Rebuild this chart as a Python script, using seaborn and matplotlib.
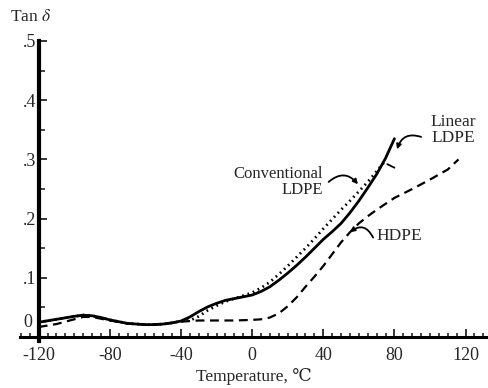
import numpy as np
import pandas as pd
import seaborn as sns
import matplotlib.pyplot as plt
from matplotlib.ticker import MultipleLocator, FixedLocator

# Linear LDPE (solid)
temp_linear = [-120, -110, -100, -95, -90, -85, -80, -75, -70, -65, -60, -55, -50, -45, -40, -35, -30, -25, -20, -15, -10, -5, 0, 5, 10, 15, 20, 25, 30, 35, 40, 45, 50, 55, 60, 65, 70, 75, 80]
tan_linear = [0.025, 0.030, 0.035, 0.037, 0.036, 0.033, 0.029, 0.026, 0.023, 0.022, 0.021, 0.021, 0.022, 0.024, 0.027, 0.034, 0.043, 0.051, 0.057, 0.062, 0.065, 0.068, 0.071, 0.077, 0.085, 0.096, 0.108, 0.121, 0.135, 0.150, 0.165, 0.178, 0.192, 0.210, 0.230, 0.252, 0.275, 0.302, 0.335]

# Conventional LDPE (dotted)
temp_conv = [-120, -110, -100, -95, -90, -85, -80, -75, -70, -65, -60, -55, -50, -45, -40, -35, -30, -25, -20, -15, -10, -5, 0, 5, 10, 15, 20, 25, 30, 35, 40, 45, 50, 55, 60, 65, 70, 75]
tan_conv = [0.025, 0.030, 0.035, 0.037, 0.036, 0.033, 0.029, 0.026, 0.023, 0.022, 0.021, 0.021, 0.022, 0.024, 0.027, 0.028, 0.035, 0.045, 0.053, 0.060, 0.065, 0.070, 0.075, 0.083, 0.093, 0.106, 0.120, 0.135, 0.150, 0.166, 0.183, 0.199, 0.215, 0.230, 0.246, 0.262, 0.280, 0.298]

# HDPE (dashed)
temp_hdpe = [-120, -110, -100, -95, -90, -80, -70, -60, -50, -40, -30, -20, -10, 0, 5, 10, 15, 20, 25, 30, 35, 40, 45, 50, 55, 60, 65, 70, 80, 90, 100, 110, 116]
tan_hdpe = [0.017, 0.022, 0.030, 0.034, 0.034, 0.028, 0.023, 0.021, 0.022, 0.026, 0.028, 0.028, 0.028, 0.029, 0.030, 0.033, 0.040, 0.052, 0.067, 0.085, 0.102, 0.120, 0.140, 0.160, 0.177, 0.192, 0.204, 0.215, 0.235, 0.250, 0.266, 0.283, 0.300]

x_ticks = [-120, -80, -40, 0, 40, 80, 120]
y_ticks = [0.1, 0.2, 0.3, 0.4, 0.5]
y_tick_labels = [".1", ".2", ".3", ".4", ".5"]

sns.set_theme(style="white")
plt.rcParams['font.family'] = ['Liberation Serif', 'DejaVu Serif']
plt.rcParams['mathtext.fontset'] = 'stix'

fig = plt.figure(figsize=(4.88, 3.88), dpi=100)
ax = fig.add_axes([0.041, 0.116, 0.959, 0.786])

sns.lineplot(x=temp_linear, y=tan_linear, ax=ax, color="black", lw=2.0, sort=False, estimator=None)
sns.lineplot(x=temp_conv, y=tan_conv, ax=ax, color="black", lw=2.0, sort=False, estimator=None,
             linestyle=(0, (0.6, 1.4)))
sns.lineplot(x=temp_hdpe, y=tan_hdpe, ax=ax, color="black", lw=1.6, sort=False, estimator=None,
             linestyle=(0, (4, 2.5)))

ax.set_xlim(-130.5, 132.6)
ax.set_ylim(-0.01, 0.505)

for s in ["top", "right"]:
    ax.spines[s].set_visible(False)
ax.spines["left"].set_position(("data", -120))
ax.spines["bottom"].set_position(("data", 0))
ax.spines["left"].set_linewidth(3.0)
ax.spines["bottom"].set_linewidth(2.2)
ax.spines["left"].set_color("black")
ax.spines["bottom"].set_color("black")
ax.spines["left"].set_bounds(-0.006, 0.5)

ax.xaxis.set_major_locator(FixedLocator(x_ticks))
ax.xaxis.set_minor_locator(MultipleLocator(5))
ax.set_xticklabels([str(t) for t in x_ticks])
ax.yaxis.set_major_locator(FixedLocator(y_ticks))
ax.yaxis.set_minor_locator(MultipleLocator(0.05))
ax.set_yticklabels(y_tick_labels)

ax.tick_params(axis="x", which="major", direction="in", length=6, width=1.3, labelsize=13, pad=7, bottom=True)
ax.tick_params(axis="x", which="minor", direction="in", length=3, width=1.2, bottom=True)
ax.tick_params(axis="y", which="major", direction="in", length=6, width=1.3, labelsize=13, pad=2, left=True)
ax.tick_params(axis="y", which="minor", direction="in", length=4, width=1.2, left=True)

ax.text(-123.5, 0.024, "0", ha="right", va="center", fontsize=13)

ax.set_xlabel("Temperature, \u2103", fontsize=12.5, labelpad=3)
ax.set_ylabel("")
fig.text(0.02, 0.955, "Tan $\\delta$", fontsize=12.5, ha="left", va="center")

# Annotations
ax.text(113, 0.35, "Linear\nLDPE", fontsize=12.5, ha="center", va="center", linespacing=1.0)
ax.annotate("", xy=(81.5, 0.317), xytext=(95, 0.338),
            arrowprops=dict(arrowstyle="-|>", color="black", lw=1.3, connectionstyle="arc3,rad=0.5",
                            shrinkA=0, shrinkB=0, mutation_scale=7))
ax.plot([76, 80], [0.292, 0.286], color="black", lw=1.3)

ax.text(40, 0.262, "Conventional\nLDPE", fontsize=12, ha="right", va="center",
        linespacing=1.0, multialignment="right")
ax.annotate("", xy=(59.5, 0.258), xytext=(43, 0.262),
            arrowprops=dict(arrowstyle="-|>", color="black", lw=1.3, connectionstyle="arc3,rad=-0.5",
                            shrinkA=0, shrinkB=0, mutation_scale=7))

ax.text(70, 0.17, "HDPE", fontsize=12.5, ha="left", va="center")
ax.annotate("", xy=(55, 0.177), xytext=(68, 0.168),
            arrowprops=dict(arrowstyle="-|>", color="black", lw=1.3, connectionstyle="arc3,rad=0.6",
                            shrinkA=0, shrinkB=0, mutation_scale=7))

fig.savefig("out.png", dpi=100)
